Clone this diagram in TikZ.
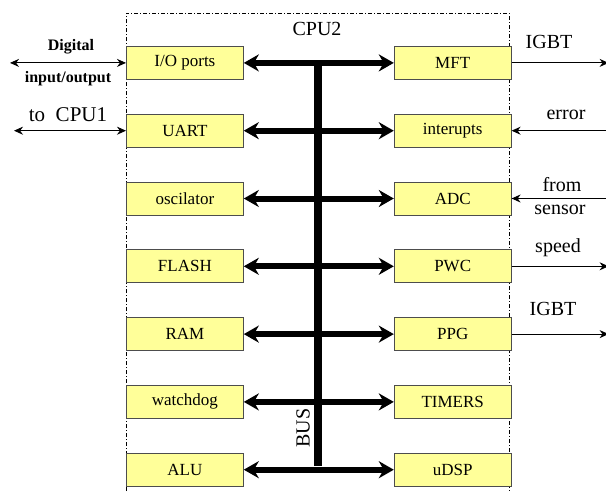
\documentclass[tikz,border=0pt]{standalone}
\usepackage{fontspec}
\setmainfont{Liberation Serif}
\usepackage{xcolor}
\usepackage{tikz}
\usetikzlibrary{positioning,arrows.meta}

\definecolor{unitfill}{HTML}{FFFF99}
\definecolor{unitline}{HTML}{4D4D4D}

\begin{document}
\begin{tikzpicture}[x=1pt, y=1pt,
	unit/.style={draw=unitline, fill=unitfill, line width=0.8pt, minimum height=33pt, minimum width=117pt, inner sep=0pt, font=\fontsize{17}{19}\selectfont},
	busline/.style={line width=6pt, {Stealth[length=15pt,width=17pt]}-{Stealth[length=15pt,width=17pt]}},
	sig/.style={line width=0.9pt},
	lbl/.style={font=\fontsize{20}{22}\selectfont, inner sep=0pt}]
	\useasboundingbox (0,0) rectangle (606,-491);
	% chip frame, open at the bottom
	\draw[line width=0.8pt, dash pattern=on 4pt off 2pt on 1pt off 2pt] (126,-491) |- (509,-13) -- (509,-491);
	\node[lbl] (cpu) at (317,-29) {CPU2};
	% left column
	\node[unit, anchor=north west] (io) at (126,-46) {I/O ports};
	\node[unit, below=34pt of io] (uart) {UART};
	\node[unit, below=34pt of uart] (osc) {oscilator};
	\node[unit, below=34pt of osc] (flash) {FLASH};
	\node[unit, below=34pt of flash] (ram) {RAM};
	\node[unit, below=34pt of ram] (wdog) {watchdog};
	\node[unit, below=34pt of wdog] (alu) {ALU};
	% right column
	\node[unit, right=150pt of io] (mft) {MFT};
	\node[unit, right=150pt of uart] (irq) {interupts};
	\node[unit, right=150pt of osc] (adc) {ADC};
	\node[unit, right=150pt of flash] (pwc) {PWC};
	\node[unit, right=150pt of ram] (ppg) {PPG};
	\node[unit, right=150pt of wdog] (tim) {TIMERS};
	\node[unit, right=150pt of alu] (dsp) {uDSP};
	% bus
	\coordinate (bustop) at (318,-60);
	\coordinate (busbot) at (318,-466);
	\draw[line width=8pt] (bustop) -- (busbot);
	\node[font=\fontsize{20}{22}\selectfont, rotate=90, inner sep=0pt] (bus) at (303,-428) {BUS};
	\foreach \l/\r in {io/mft, uart/irq, osc/adc, flash/pwc, ram/ppg, wdog/tim, alu/dsp}
		\draw[busline] (\l.east) -- (\r.west);
	% outside signals, left
	\coordinate[left=116pt of io.west] (dio);
	\coordinate[left=112pt of uart.west] (cpu1);
	\draw[sig, {Stealth[length=9pt,width=8pt]}-{Stealth[length=9pt,width=8pt]}] (dio) -- (io.west);
	\draw[sig, {Stealth[length=9pt,width=8pt]}-{Stealth[length=9pt,width=8pt]}] (cpu1) -- (uart.west);
	\node[font=\bfseries\fontsize{16}{18}\selectfont, inner sep=0pt] (dig) at (71,-47) {Digital};
	\node[font=\bfseries\fontsize{16}{18}\selectfont, inner sep=0pt] (inout) at (68,-79) {input/output};
	\node[lbl, font=\fontsize{21}{23}\selectfont] (tocpu) at (68,-115) {to\ \ CPU1};
	% outside signals, right
	\coordinate[right=97pt of mft.east] (igbt1);
	\coordinate[right=97pt of irq.east] (err);
	\coordinate[right=97pt of adc.east] (sens);
	\coordinate[right=97pt of pwc.east] (spd);
	\coordinate[right=97pt of ppg.east] (igbt2);
	\draw[sig, -{Stealth[length=9pt,width=8pt]}] (mft.east) -- (igbt1);
	\draw[sig, -{Stealth[length=9pt,width=8pt]}] (err) -- (irq.east);
	\draw[sig, -{Stealth[length=9pt,width=8pt]}] (sens) -- (adc.east);
	\draw[sig, -{Stealth[length=9pt,width=8pt]}] (pwc.east) -- (spd);
	\draw[sig, -{Stealth[length=9pt,width=8pt]}] (ppg.east) -- (igbt2);
	\node[lbl] (igbtA) at (549,-42) {IGBT};
	\node[lbl] (errl) at (566,-115) {error};
	\node[lbl] (froml) at (562,-185) {from};
	\node[lbl] (sensl) at (560,-210) {sensor};
	\node[lbl] (spdl) at (558,-248) {speed};
	\node[lbl] (igbtB) at (553,-309) {IGBT};
\end{tikzpicture}
\end{document}
